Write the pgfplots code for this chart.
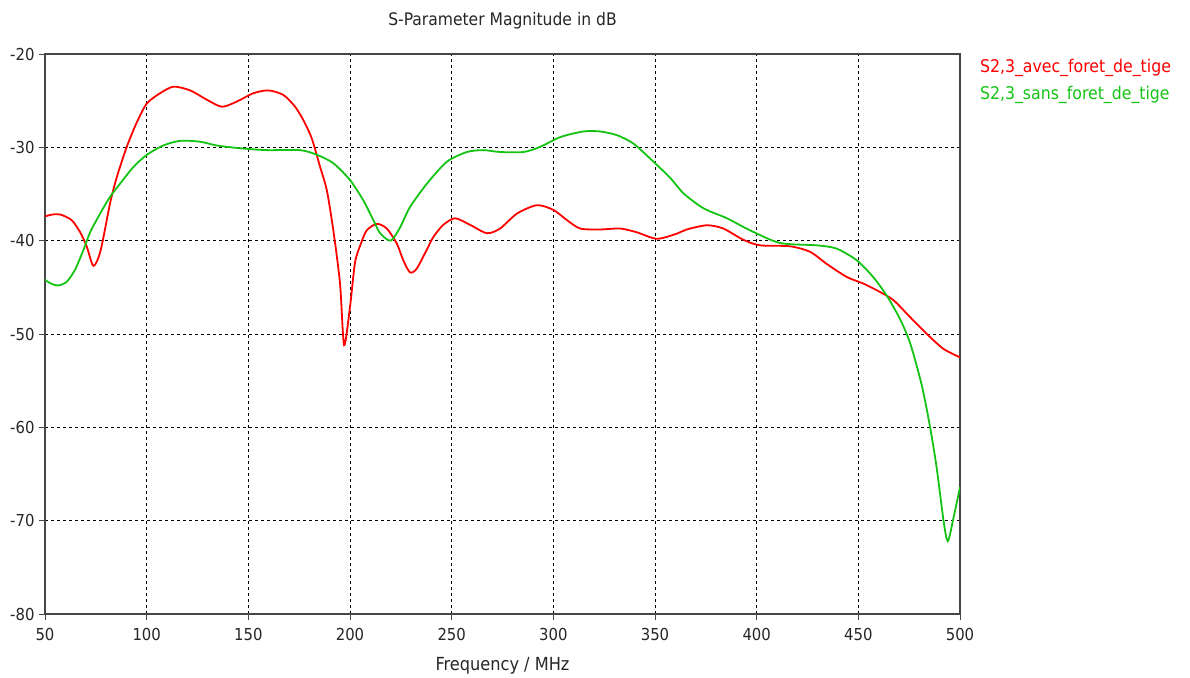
\documentclass[border=0pt]{standalone}
\usepackage{pgfplots}
\pgfplotsset{compat=1.18}
\usepackage{fontspec}
\setmainfont{DejaVu Sans Condensed}
\definecolor{cred}{RGB}{255,0,0}
\definecolor{cgreen}{RGB}{20,195,20}
\definecolor{axgray}{RGB}{70,70,70}
\begin{document}
\begin{tikzpicture}[x=1pt,y=1pt]
\path[use as bounding box] (0,0) rectangle (1190,677);
\begin{axis}[
  at={(45pt,63pt)}, anchor=south west,
  scale only axis, width=915pt, height=560pt,
  xmin=50, xmax=500, ymin=-80, ymax=-20,
  xtick={50,100,...,500}, ytick={-80,-70,...,-20},
  tick align=outside, xtick pos=left, ytick pos=left,
  major tick length=6pt,
  tick style={axgray, line width=1pt},
  axis line style={axgray, line width=1.3pt},
  grid=major,
  major grid style={black, line width=0.9pt, dash pattern=on 3pt off 3pt},
  every tick label/.style={font=\fontsize{16.5}{19}\selectfont, text=black!85},
  /pgf/number format/assume math mode=true,
  xticklabel style={yshift=-5pt},
  yticklabel style={xshift=-1pt},
  title={S-Parameter Magnitude in dB},
  title style={font=\fontsize{17.3}{20}\selectfont, at={(0.5,1)}, anchor=center, yshift=27pt, text=black!85},
  xlabel={Frequency / MHz},
  xlabel style={font=\fontsize{18}{21}\selectfont, at={(0.5,0)}, anchor=center, yshift=-52pt, text=black!85},
  legend style={draw=none, fill=none, at={(1.0195,0.995)}, anchor=north west,
    font=\fontsize{17.5}{20}\selectfont, inner sep=0pt, row sep=8pt, cells={anchor=west}},
  legend cell align=left,
  legend image code/.code={},
  clip=true,
]
\addplot[cred, line width=1.8pt, smooth, tension=0.45] coordinates {
(50,-37.4) (53.6,-37.2) (57.6,-37.2) (63.1,-37.8) (67.3,-39.1) (70.5,-40.6) (73.8,-42.7)
(77.3,-41.1) (82.0,-36.0) (85.3,-33.2) (90.3,-29.9) (95.2,-27.3) (100.1,-25.3)
(106.6,-24.2) (113.2,-23.5) (121.4,-23.9) (129.6,-24.9) (137.0,-25.65) (144.3,-25.1)
(152.5,-24.2) (159.9,-23.9) (167.3,-24.4) (173.0,-25.65) (177.1,-27.1) (181.2,-29.05)
(185.3,-32.1) (188.6,-34.6) (191.8,-38.9) (195.1,-44.6) (197.1,-51.2) (200.0,-47.1)
(202.5,-42.3) (205.4,-40.3) (208.2,-38.9) (213.2,-38.2) (218.1,-38.7) (223,-40.3)
(226.2,-42.1) (229.5,-43.4) (232.8,-43.0) (237.7,-41.0) (241,-39.6) (245.9,-38.3)
(251.7,-37.6) (259,-38.3) (267.3,-39.2) (273.8,-38.7) (282.1,-37.1) (291.9,-36.2)
(300.0,-36.7) (306.7,-37.8) (313.2,-38.7) (323.0,-38.8) (332.9,-38.7) (341.0,-39.1)
(350.9,-39.8) (360.7,-39.25) (365.6,-38.8) (375.5,-38.35) (383.6,-38.7) (393.4,-39.9)
(401.7,-40.5) (416.4,-40.6) (426.3,-41.2) (434.5,-42.5) (444.4,-43.9) (452.5,-44.6)
(460.7,-45.5) (467.4,-46.4) (475.5,-48.2) (483.7,-50.0) (491.9,-51.6) (500,-52.5)
};
\addlegendentry{\textcolor{cred}{S2,3\_avec\_foret\_de\_tige}}
\addplot[cgreen, line width=1.8pt, smooth, tension=0.45] coordinates {
(50,-44.2) (53,-44.6) (56.5,-44.8) (60.7,-44.4) (64.8,-43.1) (68.9,-41.0) (72.2,-39.1)
(77.1,-37.1) (82.0,-35.3) (86.9,-33.9) (93.5,-32.1) (100.1,-30.8) (108.2,-29.8)
(116.5,-29.3) (126.3,-29.4) (134.4,-29.8) (146.0,-30.1) (159.0,-30.3) (175.4,-30.3)
(183.7,-30.8) (191.8,-31.7) (200.0,-33.5) (206.6,-35.7) (211.5,-37.8) (214.8,-39.2)
(220.0,-40.0) (224.6,-38.6) (229.5,-36.4) (237.8,-33.9) (247.6,-31.55) (257.5,-30.5)
(265.6,-30.3) (273.8,-30.5) (285.3,-30.5) (293.5,-29.95) (303.4,-28.9) (314.8,-28.3)
(323.0,-28.3) (331.3,-28.7) (339.4,-29.6) (349.3,-31.55) (357.6,-33.3) (364.1,-34.95)
(374.0,-36.55) (385.4,-37.6) (396.8,-38.9) (411.5,-40.25) (429.5,-40.5) (439.3,-40.85)
(449.2,-42.1) (457.3,-43.9) (464.0,-45.9) (470.5,-48.4) (475.5,-51.0) (481.2,-55.5)
(485.3,-60.0) (488.5,-64.3) (491.9,-70.0) (494.0,-72.2) (496.8,-69.7) (500,-66.4)
};
\addlegendentry{\textcolor{cgreen}{S2,3\_sans\_foret\_de\_tige}}
\end{axis}
\end{tikzpicture}
\end{document}
